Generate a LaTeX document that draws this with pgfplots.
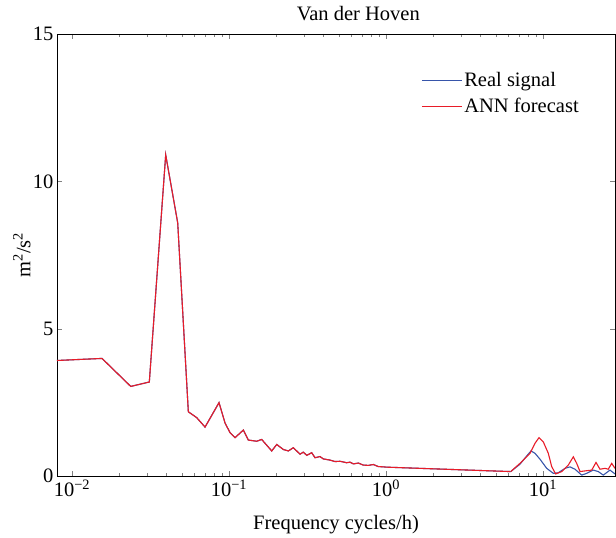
\documentclass[border=0pt]{standalone}
\usepackage{pgfplots}
\pgfplotsset{compat=1.18}
\usepackage{fontspec}
\setmainfont{Liberation Serif}
\definecolor{realblue}{RGB}{55,85,170}
\definecolor{annred}{RGB}{232,28,40}

% low-frequency part, both series nearly equal
\pgfplotstableread{
f v
0.00802 3.92
0.01553 3.99
0.02365 3.04
0.03107 3.19
0.03951 10.90
0.04711 8.59
0.05506 2.18
0.06226 1.98
0.07034 1.66
0.08635 2.49
0.09430 1.80
0.1015 1.47
0.1092 1.30
0.1234 1.56
0.1327 1.22
0.1501 1.18
0.1615 1.24
0.1871 0.85
0.2013 1.07
0.2218 0.90
0.2385 0.85
0.2568 0.96
0.2834 0.74
0.2973 0.81
0.3126 0.70
0.3363 0.79
0.3530 0.62
0.3798 0.66
0.3987 0.58
0.4397 0.54
0.4733 0.49
0.5093 0.50
0.5620 0.45
0.5898 0.47
0.6190 0.41
0.6662 0.44
0.7167 0.37
0.7713 0.36
0.8302 0.39
0.8933 0.32
0.9612 0.31
1.010 0.30
6.228 0.15
}\lowpart

\pgfplotstableread{
f v
6.228 0.15
7.137 0.40
7.875 0.68
8.386 0.85
8.892 0.77
9.570 0.57
10.56 0.26
11.63 0.09
12.52 0.11
13.81 0.26
14.86 0.31
15.99 0.23
17.64 0.03
18.98 0.09
20.91 0.20
22.50 0.15
24.22 0.03
26.72 0.20
28.75 0.07
}\realhigh

\pgfplotstableread{
f v
6.228 0.15
7.137 0.43
8.264 0.77
8.892 1.11
9.430 1.30
10.04 1.16
10.81 0.77
11.36 0.32
12.04 0.07
13.16 0.15
14.49 0.37
15.60 0.65
16.39 0.43
17.21 0.15
18.98 0.18
20.43 0.20
21.76 0.46
23.07 0.23
24.83 0.26
26.05 0.23
27.40 0.43
28.75 0.26
}\annhigh

\begin{document}
\begin{tikzpicture}
\begin{axis}[
    scale only axis,
    width=558pt, height=442pt,
    xmode=log,
    xmin=0.00802, xmax=28.75,
    ymin=0, ymax=15,
    xtick={0.01,0.1,1,10},
    xticklabels={{10\textsuperscript{−2}},{10\textsuperscript{−1}},{10\textsuperscript{0}},{10\textsuperscript{1}}},
    ytick={0,5,10,15},
    /pgf/number format/assume math mode=true,
    font=\fontsize{20.5}{24}\selectfont,
    ticklabel style={font=\fontsize{20.5}{24}\selectfont},
    major tick length=5pt, minor tick length=3pt,
    axis line style={line width=0.8pt},
    title={Van der Hoven},
    title style={at={(axis description cs:0.54,1.018)}, anchor=base},
    xlabel={Frequency cycles/h)},
    xlabel style={at={(axis description cs:0.5,-0.11)}, anchor=center},
    ylabel={m\textsuperscript{2}/s\textsuperscript{2}},
    ylabel style={at={(axis description cs:-0.063,0.5)}, anchor=center},
    legend style={draw=none, fill=none, at={(axis description cs:0.647,0.922)},
        anchor=north west, font=\fontsize{20.5}{24}\selectfont,
        /tikz/every even column/.append style={column sep=0pt},
        row sep=6pt},
    legend cell align=left,
    legend image code/.code={\draw[#1] (0pt,0pt) -- (40pt,0pt);},
]
\addplot[realblue, line width=1.1pt] table {\lowpart};
\addlegendentry{Real signal}
\addplot[annred, line width=1.1pt] table {\lowpart};
\addlegendentry{ANN forecast}
\addplot[realblue, line width=1.1pt, forget plot] table {\realhigh};
\addplot[annred, line width=1.1pt, forget plot] table {\annhigh};
\end{axis}
\path (-57pt,-60pt) rectangle (559pt,476pt);
\end{tikzpicture}
\end{document}
